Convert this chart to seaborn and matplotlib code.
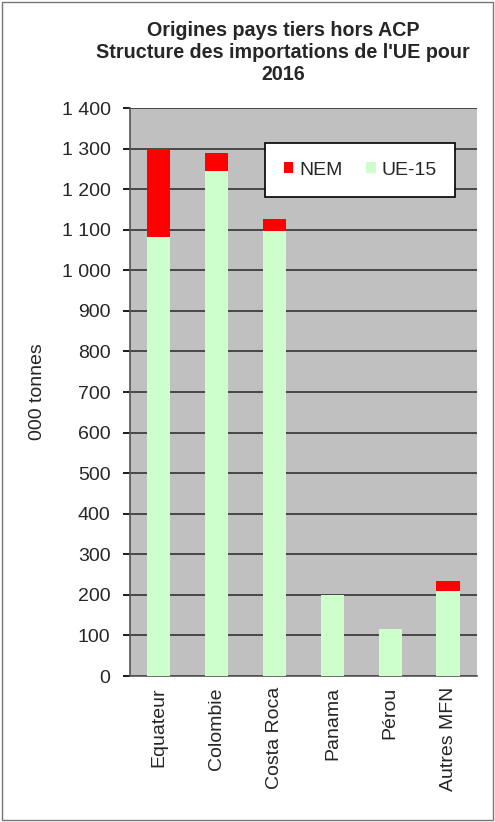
import matplotlib
matplotlib.use("Agg")
import matplotlib.pyplot as plt
import matplotlib.ticker as mticker
import seaborn as sns
import pandas as pd
import numpy as np

categories = ["Equateur", "Colombie", "Costa Roca", "Panama", "Pérou", "Autres MFN"]
ue15 = [1082, 1245, 1098, 200, 115, 210]
nem = [217, 43, 28, 0, 0, 24]
yticks = [0, 100, 200, 300, 400, 500, 600, 700, 800, 900, 1000, 1100, 1200, 1300, 1400]

sns.set_theme(style="white")
plt.rcParams['font.family'] = ['Liberation Sans', 'DejaVu Sans']

df = pd.DataFrame({"pays": categories, "UE-15": ue15, "NEM": nem})
df["total"] = df["UE-15"] + df["NEM"]

fig = plt.figure(figsize=(4.95, 8.22), dpi=100)
ax = fig.add_axes([0.2626, 0.1776, 0.701, 0.691])
ax.set_facecolor("#C0C0C0")

sns.barplot(data=df, x="pays", y="total", color="#FF0000", width=0.4,
            saturation=1, ax=ax, label="NEM", zorder=3, linewidth=0)
sns.barplot(data=df, x="pays", y="UE-15", color="#CCFFCC", width=0.4,
            saturation=1, ax=ax, label="UE-15", zorder=3, linewidth=0)

ax.set_ylim(0, 1400)
ax.set_xlim(-0.5, len(categories) - 0.5)
ax.set_yticks(yticks)
ax.yaxis.set_major_formatter(mticker.FuncFormatter(lambda v, p: f"{int(v):,}".replace(",", " ")))
ax.yaxis.grid(True, color="#333333", linewidth=1.2, zorder=0)
ax.set_axisbelow(True)

ax.set_xticks(range(len(categories)))
ax.set_xticklabels(categories, rotation=90, fontsize=14)
ax.tick_params(axis="x", which="major", length=0, pad=8)
ax.set_xticks(np.arange(-0.5, len(categories), 1.0), minor=True)
ax.tick_params(axis="x", which="minor", length=5, color="black", direction="out")
ax.tick_params(axis="y", labelsize=14, length=5, color="black", direction="out",
               left=True, pad=9)
ax.set_xlabel("")
ax.set_ylabel("000 tonnes", fontsize=14)
ax.yaxis.set_label_coords(-0.242, 0.5)

for s in ["top", "right"]:
    ax.spines[s].set_visible(False)
for s in ["left", "bottom"]:
    ax.spines[s].set_color("#555555")
    ax.spines[s].set_linewidth(1.2)

leg = ax.legend(loc="upper right", bbox_to_anchor=(0.937, 0.938), ncol=2, frameon=True,
                fancybox=False, fontsize=14, handlelength=0.5, handleheight=0.5,
                columnspacing=1.2, borderpad=0.95, handletextpad=0.3, borderaxespad=0)
leg.get_frame().set_edgecolor("black")
leg.get_frame().set_linewidth(1.2)
leg.get_frame().set_facecolor("white")
leg.get_frame().set_alpha(1)

fig.text(0.572, 0.975, "Origines pays tiers hors ACP\nStructure des importations de l'UE pour\n2016",
         ha="center", va="top", fontsize=14.2, fontweight="bold", linespacing=1.22)

fig.patches.append(plt.Rectangle((0.004, 0.002), 0.992, 0.996, transform=fig.transFigure,
                                 fill=False, edgecolor="#777777", linewidth=1))

fig.savefig("out.png", dpi=100)
